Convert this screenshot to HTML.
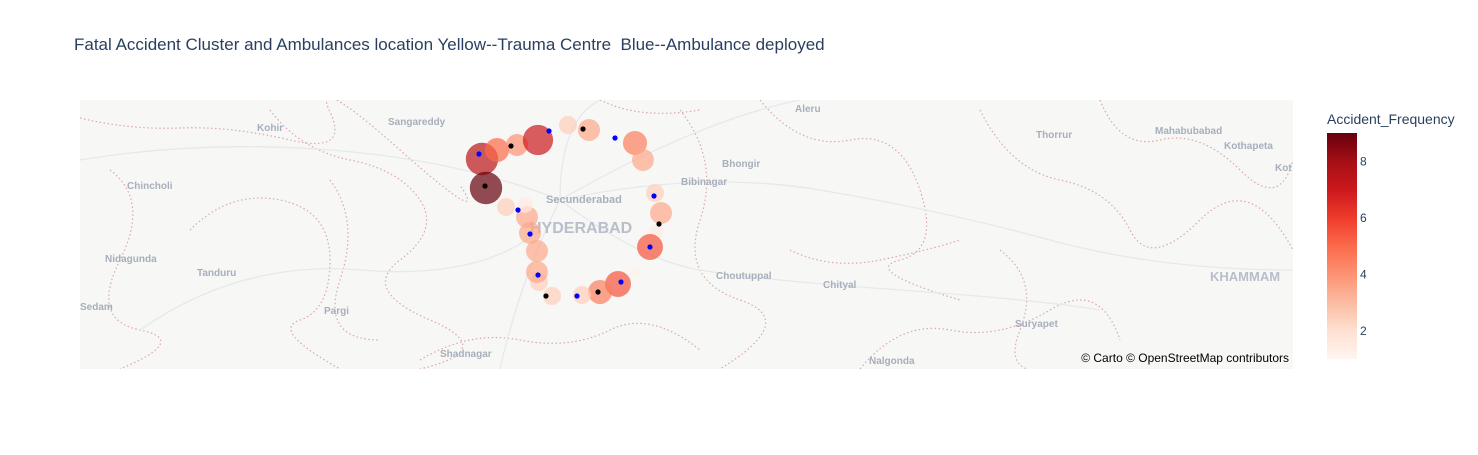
<!DOCTYPE html>
<html><head><meta charset="utf-8"><style>
body{margin:0;background:#fff;width:1478px;height:450px;overflow:hidden;font-family:"Liberation Sans",sans-serif}
</style></head><body>
<svg id="chart" width="1478" height="450" xmlns="http://www.w3.org/2000/svg" font-family="Liberation Sans, sans-serif">
<defs>
<linearGradient id="cb" x1="0" y1="1" x2="0" y2="0">
<stop offset="0" stop-color="#fff5f0"/><stop offset="0.125" stop-color="#fee0d2"/><stop offset="0.25" stop-color="#fcbba1"/><stop offset="0.375" stop-color="#fc9272"/><stop offset="0.5" stop-color="#fb6a4a"/><stop offset="0.625" stop-color="#ef3b2c"/><stop offset="0.75" stop-color="#cb181d"/><stop offset="0.875" stop-color="#a50f15"/><stop offset="1" stop-color="#67000d"/>
</linearGradient>
<clipPath id="mapclip"><rect x="80" y="100" width="1213" height="269"/></clipPath>
</defs>
<text x="74" y="50" font-size="17" fill="#2a3f5f" xml:space="preserve">Fatal Accident Cluster and Ambulances location Yellow--Trauma Centre  Blue--Ambulance deployed</text>
<g id="map" clip-path="url(#mapclip)">
<rect x="80" y="100" width="1213" height="269" fill="#f7f7f6"/>
<g fill="none" stroke="#dba8ac" stroke-width="1.2" stroke-dasharray="1.5 2.5">
<path d="M80,118 Q130,130 180,128 T290,140 T330,112 T400,150 T460,185"/>
<path d="M110,170 Q150,200 120,260 T140,330 T120,369"/>
<path d="M190,230 Q230,190 280,200 T330,260 T300,320 T340,369"/>
<path d="M330,180 Q360,220 340,280 T380,340"/>
<path d="M270,110 Q300,150 350,160 T420,200 T400,260 T430,320 T420,369"/>
<path d="M420,360 Q470,330 520,340 T610,330 T700,350"/>
<path d="M680,110 Q720,160 700,220 T740,300 T720,369"/>
<path d="M760,100 Q800,150 850,140 T920,190 T900,260 T960,300"/>
<path d="M860,369 Q900,320 950,330 T1050,310 T1120,340"/>
<path d="M980,110 Q1010,170 1060,180 T1130,230 T1200,220 T1293,250"/>
<path d="M1100,100 Q1120,150 1160,140 T1240,170 T1293,160"/>
<path d="M1000,250 Q1040,280 1020,330 T1060,369"/>
<path d="M790,250 Q830,270 880,260 T960,240"/>
<path d="M600,100 Q640,120 700,110"/>
</g>
<g fill="none" stroke="#e6e8eb" stroke-width="1.3">
<path d="M80,160 Q200,140 330,150 T560,200"/>
<path d="M140,330 Q240,260 360,270 T540,230"/>
<path d="M560,200 Q700,170 820,190 T1050,240 T1293,270"/>
<path d="M560,200 Q640,260 700,270 T900,290 T1100,310"/>
<path d="M560,200 Q560,120 600,100"/>
<path d="M560,200 Q520,280 500,369"/>
<path d="M560,200 Q700,120 800,100"/>
</g>
<g font-size="10" font-weight="bold" fill="#a7afbb">
<text x="257" y="131">Kohir</text><text x="388" y="125">Sangareddy</text>
<text x="127" y="189">Chincholi</text><text x="105" y="262">Nidagunda</text>
<text x="197" y="276">Tanduru</text><text x="80" y="310">Sedam</text>
<text x="324" y="314">Pargi</text><text x="440" y="357">Shadnagar</text>
<text x="795" y="112">Aleru</text><text x="722" y="167">Bhongir</text>
<text x="681" y="185">Bibinagar</text><text x="1036" y="138">Thorrur</text>
<text x="1155" y="134">Mahabubabad</text><text x="1224" y="149">Kothapeta</text>
<text x="1275" y="171">Kot</text><text x="716" y="279">Choutuppal</text>
<text x="823" y="288">Chityal</text><text x="1015" y="327">Suryapet</text>
<text x="869" y="364">Nalgonda</text>
<text x="546" y="203" font-size="11">Secunderabad</text>
<text x="530" y="233" font-size="16" fill="#b8bfca">HYDERABAD</text>
<text x="1210" y="281" font-size="13" fill="#b8bfca">KHAMMAM</text>
</g>
<g id="clusters"></g>
<g id="amb"></g>
</g>
<text x="1289" y="362" font-size="12" text-anchor="end" fill="#000">© Carto © OpenStreetMap contributors</text>
<g>
<text x="1327" y="124" font-size="14" fill="#2a3f5f">Accident_Frequency</text>
<rect x="1327" y="133" width="30" height="226" fill="url(#cb)"/>
<g id="cbticks" font-size="12" fill="#2a3f5f"></g>
</g>
</svg>
<script>
const clusterX = [482,486,497,517,538,568,589,635,643,655,661,656,650,635,618,600,582,552,539,537,537,530,527,525,506];
const clusterY = [159,188,150,145,140,125,130,143,160,193,213,232,247,273,284,292,295,296,282,272,251,233,217,205,207];
const clusterFreq = [7.5,9,5,4,7,2.5,3.5,4.5,3.5,2.5,3.5,1.5,5.5,1.2,5.5,4.5,2.5,2.5,2.5,3.5,3.5,3.5,3.5,1.5,2.5];
const clusterSize = [9,9,6.7,6.1,8.4,5,6.1,6.7,6.1,5,6.1,4,7.2,3,7.2,6.7,5,5,5,6.1,6.1,6.1,6.1,4.4,5];
const ambX = [479,549,615,654,650,518,530,538,577,621];
const ambY = [154,131,138,196,247,210,234,275,296,282];
const traumaX = [511,583,485,659,598,546];
const traumaY = [146,129,186,224,292,296];
const cbTicks = [2,4,6,8];
const fMin = 1, fMax = 9;

const stops = [[255,245,240],[254,224,210],[252,187,161],[252,146,114],[251,106,74],[239,59,44],[203,24,29],[165,15,21],[103,0,13]];
function color(f){const t=Math.max(0,Math.min(1,(f-fMin)/(fMax-fMin)))*(stops.length-1);const i=Math.min(stops.length-2,Math.floor(t)),u=t-i;const c=stops[i].map((v,k)=>Math.round(v+(stops[i+1][k]-v)*u));return `rgb(${c.join(',')})`;}
function radius(s){return s*1.8;}
function cbY(v){return 359-(v-fMin)/(fMax-fMin)*226;}
const NS="http://www.w3.org/2000/svg";
const cg=document.getElementById('clusters');
clusterFreq.forEach((f,i)=>{const c=document.createElementNS(NS,'circle');
c.setAttribute('cx',clusterX[i]);c.setAttribute('cy',clusterY[i]);c.setAttribute('r',radius(clusterSize[i]));
c.setAttribute('fill',color(f));c.setAttribute('fill-opacity','0.7');


cg.appendChild(c);});
const ag=document.getElementById('amb');
ambX.forEach((x,i)=>{const c=document.createElementNS(NS,'circle');
c.setAttribute('cx',x);c.setAttribute('cy',ambY[i]);c.setAttribute('r',2.6);c.setAttribute('fill','#0000ff');


ag.appendChild(c);});
traumaX.forEach((x,i)=>{const c=document.createElementNS(NS,'circle');
c.setAttribute('cx',x);c.setAttribute('cy',traumaY[i]);c.setAttribute('r',2.6);c.setAttribute('fill','#000');


ag.appendChild(c);});
const tg=document.getElementById('cbticks');
cbTicks.forEach(v=>{const t=document.createElementNS(NS,'text');
t.setAttribute('x',1360);t.setAttribute('y',cbY(v)+4);t.textContent=v;


tg.appendChild(t);});
</script>
</body></html>
